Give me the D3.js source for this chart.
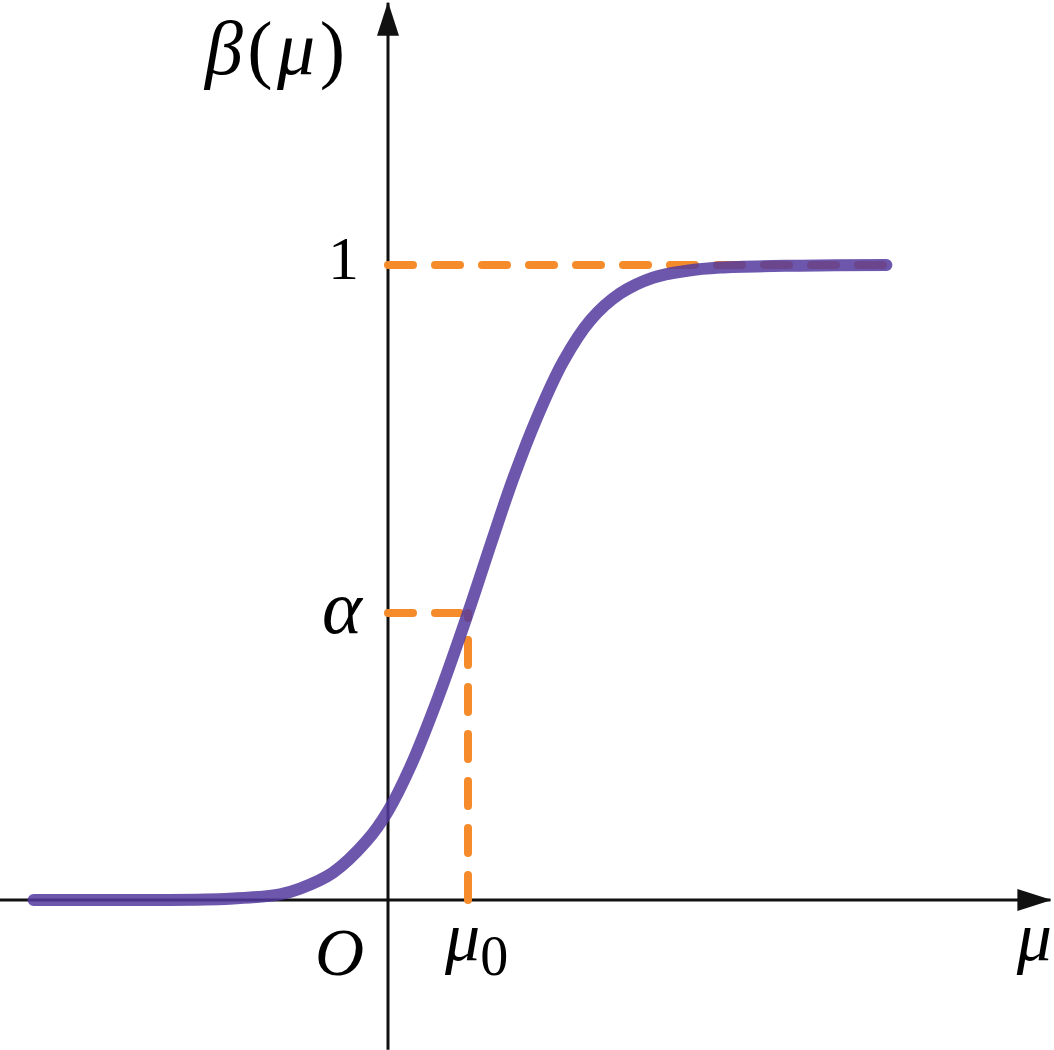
<!DOCTYPE html>
<html>
<head>
<meta charset="utf-8">
<script src="https://cdn.jsdelivr.net/npm/d3@7"></script>
<style>
  html, body { margin: 0; padding: 0; background: #fff; }
  svg { display: block; }
  .lbl { font-family: "Liberation Serif", "DejaVu Serif", serif; fill: #000; }
</style>
</head>
<body>
<svg id="canvas" width="1054" height="1050"></svg>
<script>
// power curve beta(mu) (mu in units of mu0)
const muValues   = [-4.43, -2.98, -1.98, -1.35, -1.1, -0.69, -0.26, 0, 0.28, 0.63, 1, 1.3, 1.56, 1.86, 2.19, 2.53, 2.9, 3.31, 3.74, 4.15, 5.15, 6.23];
const betaValues = [0, 0, 0.002, 0.009, 0.018, 0.043, 0.094, 0.14, 0.21, 0.32, 0.452, 0.566, 0.662, 0.759, 0.848, 0.913, 0.955, 0.98, 0.991, 0.996, 0.999, 1];

const mu0 = 1;
const alpha = 0.452;
const xExtent = [-4.85, 8.28];
const yExtent = [-0.236, 1.413];

const svg = d3.select('#canvas');

const x = d3.scaleLinear().domain([0, 1]).range([388, 468]);
const y = d3.scaleLinear().domain([0, 1]).range([900, 265]);

const curveData = muValues.map((m, i) => ({ mu: m, beta: betaValues[i] }));

// arrow heads
const defs = svg.append('defs');
defs.append('marker')
    .attr('id', 'arrow')
    .attr('viewBox', '0 0 34 22')
    .attr('refX', 33)
    .attr('refY', 11)
    .attr('markerWidth', 34)
    .attr('markerHeight', 22)
    .attr('markerUnits', 'userSpaceOnUse')
    .attr('orient', 'auto')
    .append('path')
    .attr('d', 'M0,0 L34,11 L0,22 Z')
    .attr('fill', '#111');

// axes
svg.append('line')
    .attr('x1', x(xExtent[0])).attr('y1', y(0))
    .attr('x2', x(xExtent[1])).attr('y2', y(0))
    .attr('stroke', '#111').attr('stroke-width', 3)
    .attr('marker-end', 'url(#arrow)');

svg.append('line')
    .attr('x1', x(0)).attr('y1', y(yExtent[0]))
    .attr('x2', x(0)).attr('y2', y(yExtent[1]))
    .attr('stroke', '#111').attr('stroke-width', 3)
    .attr('marker-end', 'url(#arrow)');

// orange guide lines
const guides = [
    [[0, 1], [muValues[muValues.length - 1] + 0.05, 1]],
    [[0, alpha], [mu0, alpha]],
    [[mu0, 0], [mu0, alpha]]
];

svg.selectAll('.guide')
    .data(guides)
    .enter()
    .append('line')
    .attr('class', 'guide')
    .attr('x1', d => x(d[0][0])).attr('y1', d => y(d[0][1]))
    .attr('x2', d => x(d[1][0])).attr('y2', d => y(d[1][1]))
    .attr('stroke', '#f68b2c')
    .attr('stroke-width', 8)
    .attr('stroke-linecap', 'round')
    .attr('stroke-dasharray', '25,22');

// curve
const line = d3.line()
    .x(d => x(d.mu))
    .y(d => y(d.beta))
    .curve(d3.curveCatmullRom.alpha(0.5));

svg.append('path')
    .datum(curveData)
    .attr('d', line)
    .attr('fill', 'none')
    .attr('stroke', '#52399f')
    .attr('stroke-opacity', 0.85)
    .attr('stroke-width', 12)
    .attr('stroke-linecap', 'round');

// labels
svg.append('text').attr('class', 'lbl')
    .attr('x', 205).attr('y', 74)
    .attr('textLength', 140)
    .attr('lengthAdjust', 'spacing')
    .style('font-size', '76px')
    .html('<tspan font-style="italic">β</tspan>(<tspan font-style="italic">μ</tspan>)');

svg.append('text').attr('class', 'lbl')
    .attr('x', 359).attr('y', y(1) + 14)
    .attr('text-anchor', 'end')
    .style('font-size', '62px')
    .text('1');

svg.append('text').attr('class', 'lbl')
    .attr('x', 362).attr('y', y(alpha) + 20)
    .attr('text-anchor', 'end')
    .style('font-size', '76px').style('font-style', 'italic')
    .text('α');

svg.append('text').attr('class', 'lbl')
    .attr('x', 364).attr('y', 975)
    .attr('text-anchor', 'end')
    .style('font-size', '68px').style('font-style', 'italic')
    .text('O');

svg.append('text').attr('class', 'lbl')
    .attr('x', 445).attr('y', 960)
    .style('font-size', '70px')
    .html('<tspan font-style="italic">μ</tspan><tspan dy="15" font-size="56px">0</tspan>');

svg.append('text').attr('class', 'lbl')
    .attr('x', 1052).attr('y', 960)
    .attr('text-anchor', 'end')
    .style('font-size', '70px').style('font-style', 'italic')
    .text('μ');
</script>
</body>
</html>
